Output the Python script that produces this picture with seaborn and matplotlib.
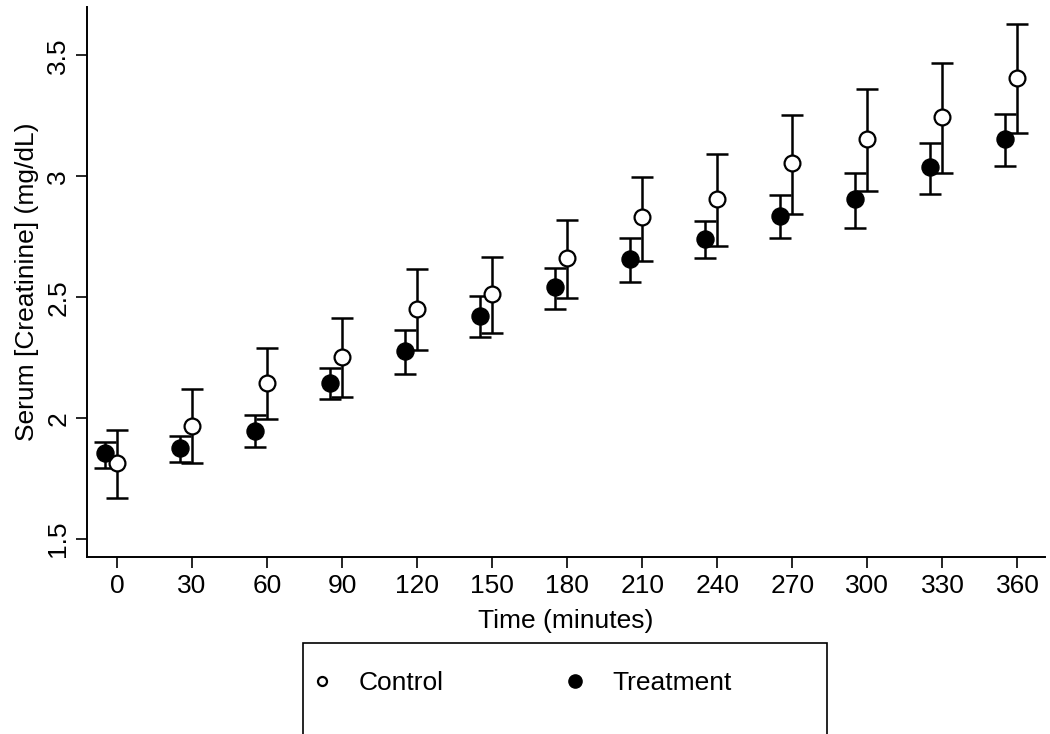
import pandas as pd
import seaborn as sns
import matplotlib.pyplot as plt
from matplotlib.patches import Rectangle
from matplotlib.lines import Line2D


TIMES = [0, 30, 60, 90, 120, 150, 180, 210, 240, 270, 300, 330, 360]

CONTROL_MEAN = [1.814, 1.967, 2.145, 2.252, 2.450, 2.512, 2.661, 2.830, 2.905, 3.054, 3.153, 3.244, 3.405]
CONTROL_LOW = [1.669, 1.814, 1.996, 2.087, 2.281, 2.351, 2.496, 2.649, 2.711, 2.843, 2.938, 3.012, 3.178]
CONTROL_HIGH = [1.950, 2.120, 2.289, 2.413, 2.616, 2.665, 2.818, 2.996, 3.091, 3.252, 3.360, 3.470, 3.628]

TREAT_MEAN = [1.855, 1.876, 1.946, 2.145, 2.277, 2.421, 2.541, 2.657, 2.740, 2.835, 2.905, 3.037, 3.153]
TREAT_LOW = [1.793, 1.818, 1.880, 2.079, 2.182, 2.335, 2.450, 2.562, 2.661, 2.744, 2.785, 2.926, 3.041]
TREAT_HIGH = [1.900, 1.926, 2.012, 2.207, 2.364, 2.504, 2.620, 2.744, 2.814, 2.921, 3.012, 3.136, 3.256]

TREAT_SHIFT = -5  # treatment points are drawn slightly left of each time
X_TICKS = TIMES
Y_TICKS = [1.5, 2, 2.5, 3, 3.5]
Y_TICK_LABELS = ["1.5", "2", "2.5", "3", "3.5"]

FONT_SIZE = 19


def build_frame() -> pd.DataFrame:
    control = pd.DataFrame({
        "time": TIMES, "mean": CONTROL_MEAN, "low": CONTROL_LOW,
        "high": CONTROL_HIGH, "group": "Control",
    })
    treat = pd.DataFrame({
        "time": [t + TREAT_SHIFT for t in TIMES], "mean": TREAT_MEAN,
        "low": TREAT_LOW, "high": TREAT_HIGH, "group": "Treatment",
    })
    return pd.concat([control, treat], ignore_index=True)


def main() -> None:
    sns.set_theme(style="ticks")
    plt.rcParams["font.family"] = ["Liberation Sans", "DejaVu Sans"]
    for key in ["text.color", "axes.labelcolor", "xtick.color", "ytick.color"]:
        plt.rcParams[key] = "black"

    df = build_frame()

    fig = plt.figure(figsize=(10.5, 7.34), dpi=100)
    ax = fig.add_axes([87 / 1050, 1 - 557 / 734, (1045 - 87) / 1050, (557 - 7) / 734])

    for _, grp in df.groupby("group"):
        ax.errorbar(
            grp["time"], grp["mean"],
            yerr=[grp["mean"] - grp["low"], grp["high"] - grp["mean"]],
            fmt="none", ecolor="black", elinewidth=1.8, capsize=8, capthick=1.8, zorder=2,
        )

    ctrl = df[df["group"] == "Control"]
    trt = df[df["group"] == "Treatment"]
    sns.scatterplot(data=ctrl, x="time", y="mean", ax=ax, s=130, color="white",
                    edgecolor="black", linewidth=1.6, zorder=3, legend=False)
    sns.scatterplot(data=trt, x="time", y="mean", ax=ax, s=150, color="black",
                    edgecolor="black", linewidth=1.0, zorder=3, legend=False)

    ax.set_xlim(-12, 371)
    ax.set_ylim(1.426, 3.70)
    ax.set_xticks(X_TICKS)
    ax.set_yticks(Y_TICKS)
    ax.set_yticklabels(Y_TICK_LABELS, rotation=90, va="center")
    ax.tick_params(axis="both", labelsize=FONT_SIZE, length=8, width=1.2, color="black", pad=4)
    ax.set_xlabel("Time (minutes)", fontsize=FONT_SIZE, labelpad=8)
    ax.set_ylabel("Serum [Creatinine] (mg/dL)", fontsize=FONT_SIZE, labelpad=5)
    sns.despine(ax=ax)
    for side in ["left", "bottom"]:
        ax.spines[side].set_linewidth(1.4)
        ax.spines[side].set_color("black")

    # legend box, cut off by the bottom of the figure like the original
    fig.patches.append(Rectangle((303 / 1050, -0.05), (827 - 303) / 1050, 0.05 + (734 - 643) / 734,
                                 transform=fig.transFigure, fill=False, edgecolor="black",
                                 linewidth=1.2, clip_on=False))
    handles = [
        Line2D([], [], marker="o", linestyle="none", markersize=6.5,
               markerfacecolor="white", markeredgecolor="black", markeredgewidth=1.6),
        Line2D([], [], marker="o", linestyle="none", markersize=9.5,
               markerfacecolor="black", markeredgecolor="black"),
    ]
    fig.legend(handles, ["Control", "Treatment"], ncol=2, frameon=False, fontsize=FONT_SIZE,
               loc="center left", bbox_to_anchor=(285 / 1050, 1 - 683 / 734),
               handlelength=1.0, handletextpad=0.9, columnspacing=4.47)

    fig.savefig("out.png", dpi=100)
    plt.close(fig)


if __name__ == "__main__":
    main()
